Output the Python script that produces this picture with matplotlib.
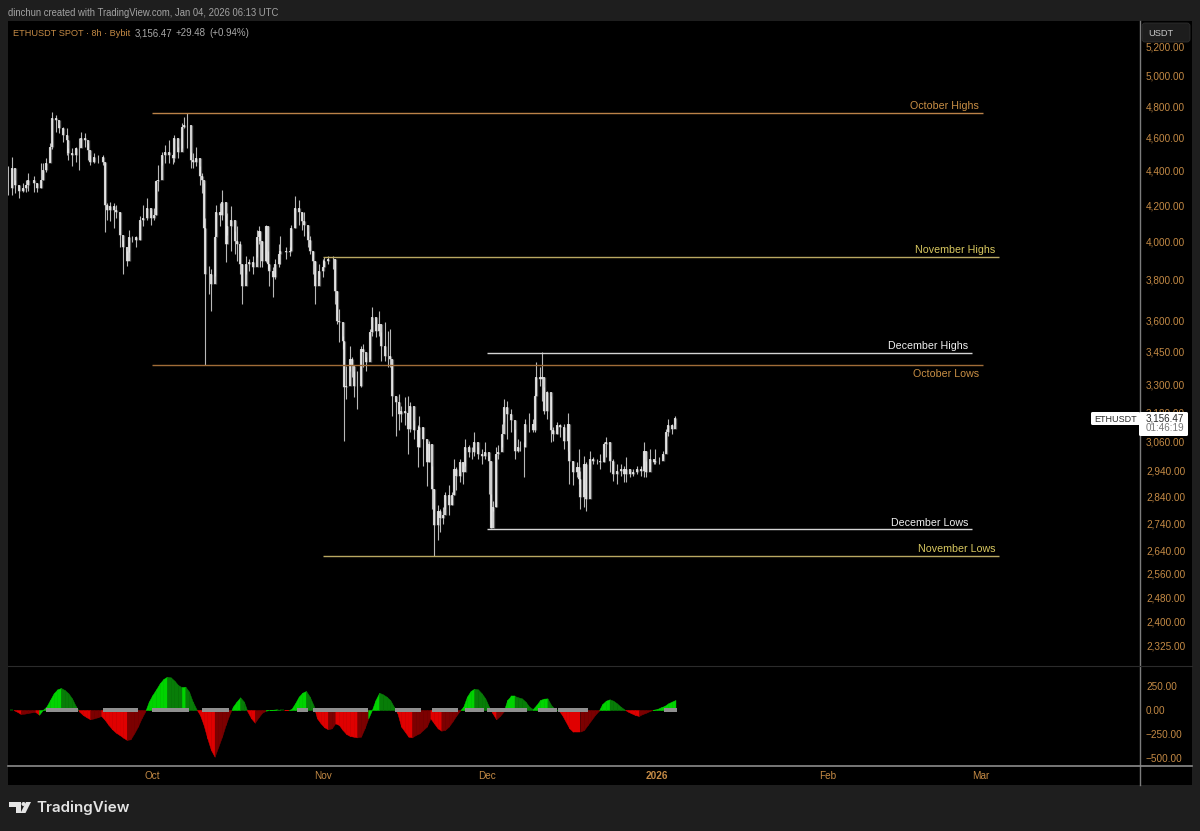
#!/usr/bin/env python3
"""ETHUSDT 8h chart with horizontal levels and a squeeze momentum pane."""

import matplotlib
matplotlib.use("Agg")
import matplotlib.dates as mdates
import matplotlib.patches as mpatches
import matplotlib.pyplot as plt
import numpy as np
import pandas as pd

W, H = 1200, 831
plt.rcParams["font.family"] = ["Liberation Sans", "DejaVu Sans"]

FIRST_BAR = pd.Timestamp("2025-09-04 16:00")

# 8h bar number, close, high, low
bar_index = [
    0, 2, 4, 6, 8, 10, 11, 14, 16, 18, 19, 21, 23, 24, 26, 28, 30, 32, 33, 35,
    37, 39, 40, 42, 44, 45, 47, 49, 52, 53, 54, 56, 58, 59, 61, 63, 65, 66, 68, 70,
    72, 74, 76, 78, 80, 81, 82, 84, 86, 88, 90, 91, 93, 95, 96, 98, 100, 101, 103, 105,
    106, 107, 108, 110, 111, 113, 114, 116, 117, 119, 120, 122, 124, 125, 127, 128, 130, 132, 134, 136,
    137, 138, 139, 141, 142, 143, 145, 146, 148, 149, 152, 154, 155, 157, 159, 161, 162, 164, 165, 167,
    168, 170, 172, 173, 175, 178, 179, 180, 181, 183, 184, 185, 187, 188, 189, 191, 193, 194, 196, 198,
    199, 201, 203, 204, 206, 208, 209, 210, 212, 214, 215, 217, 219, 220, 222, 224, 225, 227, 229, 230,
    232, 233, 235, 236, 238, 239, 241, 243, 244, 245, 247, 249, 250, 252, 254, 255, 257, 259, 261, 263,
    264, 265, 267, 268, 270, 271, 273, 275, 277, 279, 280, 282, 283, 285, 287, 288, 289, 291, 292, 293,
    295, 297, 298, 300, 302, 304, 306, 307, 309, 311, 312, 313, 315, 316, 318, 320, 322, 324, 326, 327,
    329, 331, 333, 335, 337, 338, 340, 342, 344, 346, 348, 349, 351, 353, 354, 356, 358, 360, 361, 363,
    365,
]
bar_close = [
    4300, 4416, 4319, 4280, 4300, 4319, 4347, 4330, 4302, 4347, 4406, 4447, 4546, 4723, 4711, 4660, 4617, 4586, 4507, 4495,
    4538, 4538, 4598, 4586, 4526, 4455, 4485, 4485, 4455, 4205, 4176, 4195, 4176, 4165, 4039, 3970, 3897, 4023, 4023, 4012,
    4121, 4132, 4187, 4132, 4149, 4338, 4347, 4495, 4515, 4495, 4477, 4598, 4515, 4669, 4679, 4679, 4465, 4455, 4477, 4367,
    4347, 4077, 3829, 3829, 3778, 4023, 4165, 4149, 4222, 3986, 4084, 4121, 4003, 3986, 3880, 3769, 3880, 3890, 3864, 4023,
    4057, 4003, 3897, 4084, 3880, 3845, 3813, 3880, 3933, 3950, 3943, 3950, 4077, 4187, 4165, 4112, 4093, 4012, 3950, 3897,
    3769, 3845, 3864, 3897, 3906, 3906, 3744, 3596, 3590, 3501, 3291, 3297, 3416, 3385, 3297, 3297, 3462, 3448, 3402, 3541,
    3614, 3548, 3580, 3477, 3432, 3432, 3416, 3252, 3224, 3174, 3188, 3179, 3111, 3209, 3104, 3036, 3119, 3069, 2976, 3048,
    2871, 2733, 2784, 2758, 2770, 2845, 2807, 2845, 2948, 2921, 2976, 2936, 3036, 3016, 3016, 3056, 3008, 3001, 3016, 2981,
    2721, 2802, 3008, 3016, 3090, 3203, 3174, 3146, 3021, 3036, 3036, 3036, 3132, 3132, 3104, 3252, 3335, 3326, 3335, 3188,
    3269, 3104, 3090, 3125, 3119, 3062, 3132, 2981, 2936, 2956, 2909, 2840, 2968, 2832, 2988, 2981, 2981, 2976, 3048, 3056,
    2981, 2928, 2941, 2948, 2928, 2948, 2928, 2936, 2948, 2941, 3021, 2936, 2988, 2976, 2981, 2981, 3008, 3098, 3125, 3111,
    3156.47,
]
bar_high = [
    4426, 4485, 4347, 4319, 4330, 4347, 4389, 4367, 4330, 4447, 4447, 4477, 4568, 4764, 4742, 4679, 4669, 4660, 4538, 4538,
    4546, 4598, 4637, 4630, 4568, 4495, 4507, 4495, 4495, 4447, 4216, 4222, 4216, 4205, 4165, 4012, 3950, 4066, 4030, 4030,
    4140, 4205, 4244, 4176, 4187, 4347, 4436, 4515, 4556, 4586, 4507, 4617, 4546, 4692, 4727, 4755, 4515, 4507, 4546, 4426,
    4389, 4330, 4132, 3871, 3854, 4039, 4205, 4216, 4290, 4149, 4160, 4195, 4057, 4084, 4003, 3880, 3924, 3906, 3924, 4066,
    4084, 4050, 4003, 4090, 3950, 3880, 3864, 3906, 3986, 4030, 3970, 3970, 4093, 4252, 4233, 4165, 4165, 4057, 4030, 3950,
    3897, 3880, 3906, 3917, 3924, 3924, 3906, 3744, 3653, 3525, 3495, 3385, 3477, 3425, 3363, 3363, 3477, 3485, 3425, 3556,
    3663, 3604, 3645, 3541, 3590, 3548, 3556, 3393, 3238, 3260, 3209, 3247, 3252, 3224, 3146, 3125, 3167, 3119, 3056, 3062,
    2961, 2871, 2807, 2795, 2802, 2858, 2884, 2858, 2988, 2956, 2988, 2976, 3069, 3042, 3036, 3098, 3036, 3028, 3056, 3001,
    2851, 2825, 3036, 3042, 3132, 3238, 3231, 3195, 3111, 3069, 3062, 3056, 3153, 3179, 3153, 3260, 3402, 3380, 3447, 3291,
    3275, 3252, 3119, 3140, 3132, 3132, 3179, 3021, 2981, 2976, 3028, 2941, 3001, 2976, 3021, 2996, 2988, 3008, 3056, 3077,
    3021, 2988, 2968, 2968, 2961, 2996, 2941, 2948, 2961, 2961, 3056, 2981, 3028, 2988, 3028, 2996, 3021, 3111, 3153, 3132,
    3167,
]
bar_low = [
    4262, 4262, 4273, 4243, 4279, 4279, 4280, 4279, 4279, 4302, 4347, 4394, 4455, 4532, 4637, 4630, 4576, 4495, 4465, 4426,
    4455, 4406, 4546, 4546, 4465, 4436, 4447, 4447, 4436, 4050, 4121, 4112, 4077, 4132, 3970, 3829, 3871, 3943, 3996, 3970,
    4012, 4084, 4121, 4093, 4121, 4149, 4280, 4436, 4447, 4447, 4441, 4455, 4477, 4538, 4660, 4538, 4418, 4418, 4426, 4319,
    4273, 4077, 3389, 3727, 3645, 3820, 4039, 4084, 4121, 3890, 4039, 3950, 3933, 3897, 3829, 3677, 3829, 3845, 3829, 3917,
    3986, 3864, 3864, 3890, 3854, 3769, 3712, 3803, 3864, 3880, 3906, 3924, 3950, 4077, 4093, 4066, 4030, 3970, 3933, 3829,
    3677, 3803, 3813, 3864, 3880, 3854, 3677, 3580, 3495, 3462, 3062, 3238, 3363, 3335, 3247, 3195, 3291, 3380, 3363, 3416,
    3525, 3518, 3525, 3408, 3408, 3380, 3380, 3167, 3083, 3104, 3140, 3125, 3008, 3098, 3069, 2956, 3036, 2961, 2879, 2976,
    2795, 2624, 2679, 2710, 2739, 2795, 2770, 2807, 2845, 2864, 2897, 2890, 2961, 2996, 2988, 3001, 2988, 2968, 2988, 2851,
    2721, 2787, 2802, 2988, 3036, 3140, 3069, 3098, 2988, 3016, 3021, 2917, 3036, 3098, 3098, 3098, 3252, 3297, 3231, 3174,
    3153, 3056, 3062, 3090, 3077, 3028, 3021, 2890, 2884, 2917, 2890, 2795, 2802, 2784, 2948, 2968, 2968, 2948, 2976, 2996,
    2936, 2902, 2890, 2921, 2897, 2897, 2917, 2921, 2928, 2921, 2917, 2917, 2948, 2968, 2968, 2968, 2988, 3016, 3083, 3090,
    3132,
]

# momentum pane, one value per 16h
mom_values = [
    0, 0, -18, -42, -38, -31, -24, -21, -49, 0,
    35, 104, 174, 215, 229, 208, 174, 121, 42,
    -17, -52, -76, -97, -87, -76, -62, -104, -156, -201, -236, -260, -288, -312, -305, -243, -173, -87, -17,
    87, 156, 215, 278, 323, 347, 340, 305, 260, 238, 243, 191, 87, 10,
    -52, -156, -295, -416, -486, -382, -278, -156, -52,
    35, 87, 132, 87,
    -17, -87, -132, -76, -28, -7, 0, 3, 7, 0, 0, -3, 10,
    69, 139, 180, 198, 139, 52,
    -87, -139, -180, -201, -191, -139, -156, -208, -250, -271, -278, -285, -278,
    -191, -87, 0,
    104, 180, 163, 139, 104, 35,
    -35, -173, -225, -278, -285, -260, -243, -208, -173, -87,
    -139, -191, -215, -208, -173, -121, -62, -10,
    35, 139, 198, 222, 215, 174, 121, 35,
    -35, -97, -62, -17,
    104, 146, 146, 132, 121, 87, 35, 10, 52, 104, 118, 121, 52, 10, 0,
    -52, -121, -191, -225, -225, -225, -208, -156, -104, -52, -10,
    62, 97, 111, 97, 69, 35, 7,
    -17, -35, -52, -62, -42, -28, -10,
    3, 10, 28, 42, 69, 87, 104,
]
squeeze_starts = [22, 53, 80, 107, 159, 168, 213, 233, 251, 263, 291, 302, 360]
squeeze_ends = [38, 71, 99, 121, 164, 197, 226, 246, 260, 284, 300, 317, 366]

level_names = ["October Highs", "November Highs", "December Highs",
               "October Lows", "December Lows", "November Lows"]
level_prices = [4755, 3920, 3445, 3389, 2718, 2622]
level_starts = ["2025-10-01", "2025-11-01", "2025-12-01", "2025-10-01", "2025-12-01", "2025-11-01"]
level_ends = ["2026-03-01 08:00", "2026-03-04 08:00", "2026-02-27 08:00",
              "2026-03-01 08:00", "2026-02-27 08:00", "2026-03-04 08:00"]
level_colors = ["#bb8248", "#b9a862", "#d4d4d4", "#a06c38", "#d4d4d4", "#b9a862"]
label_colors = ["#c98f45", "#d9c860", "#f0f0f0", "#c98f45", "#f0f0f0", "#d9c860"]
label_below = [False, False, False, True, False, False]

price_ticks = [5200, 5000, 4800, 4600, 4400, 4200, 4000, 3800, 3600, 3450, 3300, 3180,
               3060, 2940, 2840, 2740, 2640, 2560, 2480, 2400, 2325]
mom_ticks = [250, 0, -250, -500]
month_ticks = ["2025-10-01", "2025-11-01", "2025-12-01", "2026-01-01", "2026-02-01", "2026-03-01"]
month_labels = ["Oct", "Nov", "Dec", "2026", "Feb", "Mar"]

BG = "#1e1e1e"
AXIS_TXT = "#c48a45"


def bar_time(n):
    return mdates.date2num(FIRST_BAR) + np.asarray(n, dtype=float) / 3.0


def fx(x):
    return x / W


def fy(y):
    return 1 - y / H


def pane(x0, y0, x1, y1):
    return fig.add_axes([fx(x0), fy(y1), fx(x1 - x0), (y1 - y0) / H])


def box(x0, y0, x1, y1, color, edge="none", radius=2.0, z=5):
    fig.patches.append(mpatches.FancyBboxPatch(
        (x0 + radius, H - y1 + radius), x1 - x0 - 2 * radius, y1 - y0 - 2 * radius,
        boxstyle=f"round,pad={radius},rounding_size={radius}", transform=px_trans,
        facecolor=color, edgecolor=edge, linewidth=0.6, zorder=z))


fig = plt.figure(figsize=(W / 100, H / 100), dpi=100, facecolor=BG)
px_trans = matplotlib.transforms.Affine2D().scale(fig.dpi / 100)

fig.patches.append(mpatches.Rectangle((8, H - 785), 1184, 764, transform=px_trans,
                                      facecolor="black", edgecolor="none", zorder=-1))

xlim = (bar_time(0), mdates.date2num(pd.Timestamp("2026-03-29 20:00")))

# price pane
ax = pane(8, 21, 1139, 665)
ax.set_facecolor("black")
ax.set_yscale("log")
ax.set_xlim(xlim)
ax.set_ylim(2265, 5381)
ax.minorticks_off()

x_bars = bar_time(bar_index)
close = np.array(bar_close, dtype=float)
opens = np.concatenate([[close[0]], close[:-1]])
body_lo = np.minimum(opens, close)
body_hi = np.maximum(opens, close)
# soft grey under the bars, the reference is a blurred screenshot
ax.vlines(x_bars, body_lo, body_hi, color="#5e5e5e", linewidth=2.4, zorder=1)
ax.vlines(x_bars, bar_low, bar_high, color="#b8b8b8", linewidth=0.8, zorder=2)
ax.vlines(x_bars, body_lo, body_hi, color="#eeeeee", linewidth=1.15, zorder=3)

for name, price, start, end, col, txt, below in zip(level_names, level_prices, level_starts,
                                                    level_ends, level_colors, label_colors, label_below):
    t0 = mdates.date2num(pd.Timestamp(start))
    t1 = mdates.date2num(pd.Timestamp(end))
    ax.hlines(price, t0, t1, color=col, linewidth=1.0, zorder=4)
    ax.annotate(name, xy=(t1, price), xytext=(-2.5, -6.5 if below else 4.9), textcoords="offset points",
                ha="right", va="center", color=txt, fontsize=7.7, zorder=6)

ax.yaxis.tick_right()
ax.set_yticks(price_ticks)
ax.set_yticklabels([f"{p:,.2f}" for p in price_ticks])
ax.tick_params(axis="y", length=0, pad=5, labelsize=7.2, labelcolor=AXIS_TXT)
ax.set_xticks([])
for s in ax.spines.values():
    s.set_visible(False)

# momentum pane
ax2 = pane(8, 667, 1139, 765)
ax2.set_facecolor("black")
ax2.set_xlim(xlim)
ax2.set_ylim(-573, 448)

mom = np.array(mom_values, dtype=float)
prev = np.concatenate([[0.0], mom[:-1]])
colors = []
for v, p in zip(mom, prev):
    if v >= 0:
        colors.append("#00d400" if v >= p else "#087d08")
    else:
        colors.append("#e00000" if v <= p else "#7c0000")
x_mom = bar_time(np.arange(len(mom)) * 2 + 1)


def hist_piece(xs, ys, color):
    # a thin edge in the same colour hides the seams between pieces
    ax2.fill_between(xs, ys, 0, facecolor=color, edgecolor=color, linewidth=0.35, zorder=2)


for i in range(1, len(mom)):
    a, b = mom[i - 1], mom[i]
    x0, x1 = x_mom[i - 1], x_mom[i]
    if a * b < 0:
        # split at the zero crossing so each side keeps its colour
        xc = x0 + (x1 - x0) * a / (a - b)
        hist_piece([x0, xc], [a, 0], colors[i - 1])
        hist_piece([xc, x1], [0, b], colors[i])
    else:
        hist_piece([x0, x1], [a, b], colors[i])

squeeze = np.concatenate([np.arange(a, b) for a, b in zip(squeeze_starts, squeeze_ends)])
ax2.scatter(bar_time(squeeze), np.zeros(len(squeeze)), marker="s", s=5.2, color="#8f8f8f",
            linewidths=0, zorder=3)

ax2.yaxis.tick_right()
ax2.set_yticks(mom_ticks)
ax2.set_yticklabels([f"{v:,.2f}".replace("-", "\u2212") for v in mom_ticks])
ax2.tick_params(axis="y", length=0, pad=5, labelsize=7.2, labelcolor=AXIS_TXT)
ax2.set_xticks(mdates.date2num(pd.to_datetime(month_ticks)))
ax2.set_xticklabels(month_labels)
ax2.tick_params(axis="x", length=0, pad=4, labelsize=7.2, labelcolor=AXIS_TXT)
ax2.get_xticklabels()[3].set_fontweight("bold")
for s in ax2.spines.values():
    s.set_visible(False)

# frame lines of the chart
fig.add_artist(plt.Line2D([fx(1139.5)] * 2, [fy(21), fy(785)], color="#7c7c7c", linewidth=1.0, zorder=4))
fig.add_artist(plt.Line2D([fx(8), fx(1192)], [fy(765.5)] * 2, color="#8c8c8c", linewidth=1.2, zorder=4))
fig.add_artist(plt.Line2D([fx(8), fx(1192)], [fy(666)] * 2, color="#2b2b2b", linewidth=0.8, zorder=4))

# header
fig.text(fx(8), fy(13.5), "dinchun created with TradingView.com, Jan 04, 2026 06:13 UTC",
         color="#a3a3a3", fontsize=6.85, va="center", ha="left")
fig.text(fx(13), fy(33.5), "ETHUSDT SPOT \u00b7 8h \u00b7 Bybit", color=AXIS_TXT, fontsize=6.55, va="center")
fig.text(fx(135), fy(33.5), "3,156.47", color="#a8a8a8", fontsize=7.0, va="center")
fig.text(fx(176), fy(33.5), "+29.48", color="#a8a8a8", fontsize=7.0, va="center")
fig.text(fx(209), fy(33.5), "(+0.94%)", color="#a8a8a8", fontsize=7.0, va="center")

# USDT button
box(1142, 23, 1190, 42, "#1d1d1d", edge="#2e2e2e", radius=3)
fig.text(fx(1148), fy(33), "USDT", color="#c8c8c8", fontsize=6.7, va="center", zorder=10)

# last price tags
box(1091, 412, 1140, 425, "white", radius=1.5)
box(1139, 412, 1188, 436, "white", radius=1.5)
fig.text(fx(1094.5), fy(419), "ETHUSDT", color="#2a2a2a", fontsize=6.5, va="center", zorder=10)
fig.text(fx(1146), fy(418.5), "3,156.47", color="#2a2a2a", fontsize=7.1, va="center", zorder=10)
fig.text(fx(1146), fy(428.5), "01:46:19", color="#777777", fontsize=7.1, va="center", zorder=10)

# TradingView logo
LOGO = "#e4e4e4"
fig.patches.append(mpatches.Polygon(
    [(9, H - 802), (21, H - 802), (21, H - 813), (15.5, H - 813), (15.5, H - 806.5), (9, H - 806.5)],
    transform=px_trans, facecolor=LOGO, edgecolor="none", zorder=5))
fig.patches.append(mpatches.Circle((23.5, H - 804), 2.0, transform=px_trans, facecolor=LOGO,
                                   edgecolor="none", zorder=5))
fig.patches.append(mpatches.Polygon(
    [(26, H - 802), (31, H - 802), (25.5, H - 813), (20.5, H - 813)],
    transform=px_trans, facecolor=LOGO, edgecolor="none", zorder=5))
fig.text(fx(36.5), fy(808), "TradingView", color=LOGO, fontsize=10.9, va="center", family="Inter",
         weight="semibold")

fig.savefig("out.png", dpi=100, facecolor=BG)
